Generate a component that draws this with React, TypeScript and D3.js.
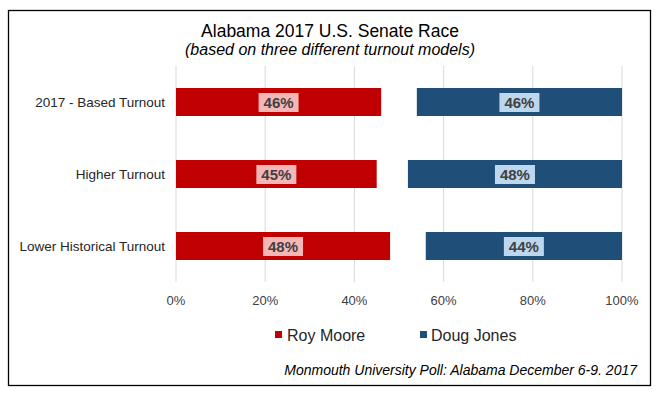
import React from "react"
import * as d3 from "d3"

const categories = ["2017 - Based Turnout", "Higher Turnout", "Lower Historical Turnout"]
const mooreValues = [46, 45, 48]
const jonesValues = [46, 48, 44]
const ticks = [0, 20, 40, 60, 80, 100]

const W = 660
const H = 398
const margin = { top: 66, left: 176, right: 38, bottom: 116 }

const font = "Arial, 'Liberation Sans', sans-serif"

export default function App() {
  const x = d3.scaleLinear().domain([0, 100]).range([margin.left, 622])
  const y = d3
    .scaleBand()
    .domain(categories)
    .range([margin.top, 282])
    .paddingInner(0.611)
    .paddingOuter(0.3055)

  const bh = y.bandwidth()

  const label = (cx: number, cy: number, text: string, bg: string, key: string) => (
    <g key={key}>
      <rect x={cx - 20} y={cy - 9} width={40} height={19} fill={bg} />
      <text
        x={cx}
        y={cy + 6}
        textAnchor="middle"
        fontSize={15}
        fontWeight="bold"
        fill="#404040"
      >
        {text}
      </text>
    </g>
  )

  return (
    <svg
      width={W}
      height={H}
      style={{ position: "absolute", left: 0, top: 0, fontFamily: font }}
    >
      <rect x={0} y={0} width={W} height={H} fill="#fff" />
      <rect x={8.5} y={10.5} width={642} height={375} fill="none" stroke="#000" strokeWidth={1.3} />

      <text x={330} y={37} textAnchor="middle" fontSize={17.5} fill="#000">
        Alabama 2017 U.S. Senate Race
      </text>
      <text x={330} y={55} textAnchor="middle" fontSize={16} fontStyle="italic" fill="#000">
        (based on three different turnout models)
      </text>

      {ticks.map(t => (
        <g key={t}>
          <line x1={x(t)} x2={x(t)} y1={margin.top} y2={282} stroke="#d9d9d9" strokeWidth={1} />
          <text x={x(t)} y={305} textAnchor="middle" fontSize={13} fill="#404040">
            {t}%
          </text>
        </g>
      ))}

      {categories.map((c, i) => {
        const y0 = y(c) as number
        const cy = y0 + bh / 2
        const mEnd = x(mooreValues[i])
        const jStart = x(100 - jonesValues[i])
        return (
          <g key={c}>
            <text x={165} y={cy + 5} textAnchor="end" fontSize={13.5} fill="#262626">
              {c}
            </text>
            <rect x={x(0)} y={y0} width={mEnd - x(0)} height={bh} fill="#c00000" />
            <rect x={jStart} y={y0} width={x(100) - jStart} height={bh} fill="#1f4e79" />
            {label((x(0) + mEnd) / 2, cy, `${mooreValues[i]}%`, "#f4b6b6", "m" + i)}
            {label((jStart + x(100)) / 2, cy, `${jonesValues[i]}%`, "#bdd7ee", "j" + i)}
          </g>
        )
      })}

      <rect x={275} y={331} width={7} height={7} fill="#c00000" />
      <text x={287} y={340.5} fontSize={16} fill="#262626">
        Roy Moore
      </text>
      <rect x={420} y={331} width={7} height={7} fill="#1f4e79" />
      <text x={431} y={340.5} fontSize={16} fill="#262626">
        Doug Jones
      </text>

      <text x={637} y={375} textAnchor="end" fontSize={14} fontStyle="italic" fill="#000">
        Monmouth University Poll: Alabama December 6-9. 2017
      </text>
    </svg>
  )
}
